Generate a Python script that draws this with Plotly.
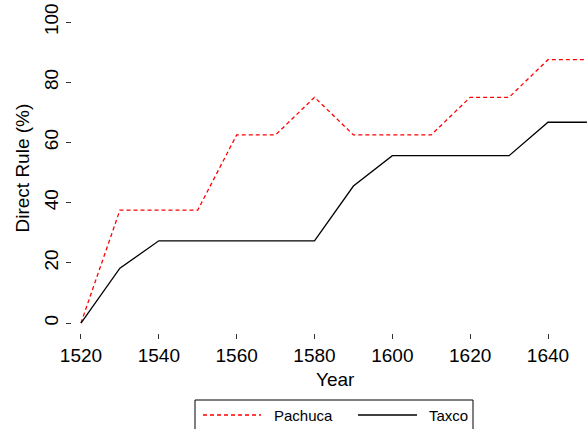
import plotly.graph_objects as go

# Share of towns under direct rule, by decade
years = [1520, 1530, 1540, 1550, 1560, 1570, 1580, 1590, 1600, 1610, 1620, 1630, 1640, 1650]
pachuca = [0, 37.5, 37.5, 37.5, 62.5, 62.5, 75, 62.5, 62.5, 62.5, 75, 75, 87.5, 87.5]
taxco = [0, 18.2, 27.3, 27.3, 27.3, 27.3, 27.3, 45.5, 55.6, 55.6, 55.6, 55.6, 66.7, 66.7]

x_ticks = [1520, 1540, 1560, 1580, 1600, 1620, 1640]
y_ticks = [0, 20, 40, 60, 80, 100]

series_names = ["Pachuca", "Taxco"]
series_colors = ["#ff0000", "#000000"]
series_dash = ["4px,3px", "solid"]

W, H = 587, 429
ML, MR, MT, MB = 72, 0, 10, 96
PW, PH = W - ML - MR, H - MT - MB

FONT = "Liberation Sans, Arial, Helvetica, sans-serif"
FS = 19

fig = go.Figure()
for name, vals, col, dash in zip(series_names, [pachuca, taxco], series_colors, series_dash):
    fig.add_trace(go.Scatter(
        x=years, y=vals, mode="lines", name=name,
        line=dict(color=col, width=1.3, dash=dash),
        showlegend=False,
    ))


def px_x(p):
    return (p - ML) / PW


def px_y(p):
    return (H - MB - p) / PH


# Legend drawn below the plot, in a box that runs off the bottom edge
shapes = [dict(type="rect", xref="paper", yref="paper",
               x0=px_x(195), x1=px_x(473), y0=px_y(440), y1=px_y(400),
               line=dict(color="black", width=1), fillcolor="white", layer="above")]
annotations = []
legend_slots = [(203, 261, 272), (358, 417, 427)]
for (lx0, lx1, tx), name, col, dash in zip(legend_slots, series_names, series_colors, series_dash):
    shapes.append(dict(type="line", xref="paper", yref="paper",
                       x0=px_x(lx0), x1=px_x(lx1), y0=px_y(415), y1=px_y(415),
                       line=dict(color=col, width=1.3, dash=dash)))
    annotations.append(dict(text=name, xref="paper", yref="paper",
                            x=px_x(tx), y=px_y(415), xanchor="left", yanchor="middle",
                            showarrow=False, font=dict(family=FONT, size=15, color="black")))

# Axis titles
annotations.append(dict(text="Year", xref="paper", yref="paper",
                        x=px_x(335), y=px_y(380), xanchor="center", yanchor="middle",
                        showarrow=False, font=dict(family=FONT, size=FS, color="black")))
annotations.append(dict(text="Direct Rule (%)", xref="paper", yref="paper",
                        x=px_x(21.5), y=px_y(168), xanchor="center", yanchor="middle",
                        textangle=-90, showarrow=False,
                        font=dict(family=FONT, size=FS, color="black")))

fig.update_layout(
    width=W, height=H, autosize=False,
    margin=dict(l=ML, r=MR, t=MT, b=MB, pad=0),
    paper_bgcolor="white", plot_bgcolor="white",
    font=dict(family=FONT, size=FS, color="black"),
    shapes=shapes, annotations=annotations,
    showlegend=False,
)
fig.update_xaxes(
    range=[1517.69, 1650.02], tickvals=x_ticks, ticktext=[str(v) for v in x_ticks],
    ticks="outside", ticklen=5, tickwidth=1, tickcolor="#333",
    showline=False, showgrid=False, zeroline=False,
    tickfont=dict(family=FONT, size=FS, color="black"),
)
fig.update_yaxes(
    range=[-3.32, 104.0], tickvals=y_ticks, ticktext=[str(v) for v in y_ticks],
    ticks="outside", ticklen=5, tickwidth=1, tickcolor="#333", tickangle=-90,
    showline=False, showgrid=False, zeroline=False,
    tickfont=dict(family=FONT, size=FS, color="black"),
)

fig.write_html("out.html")
